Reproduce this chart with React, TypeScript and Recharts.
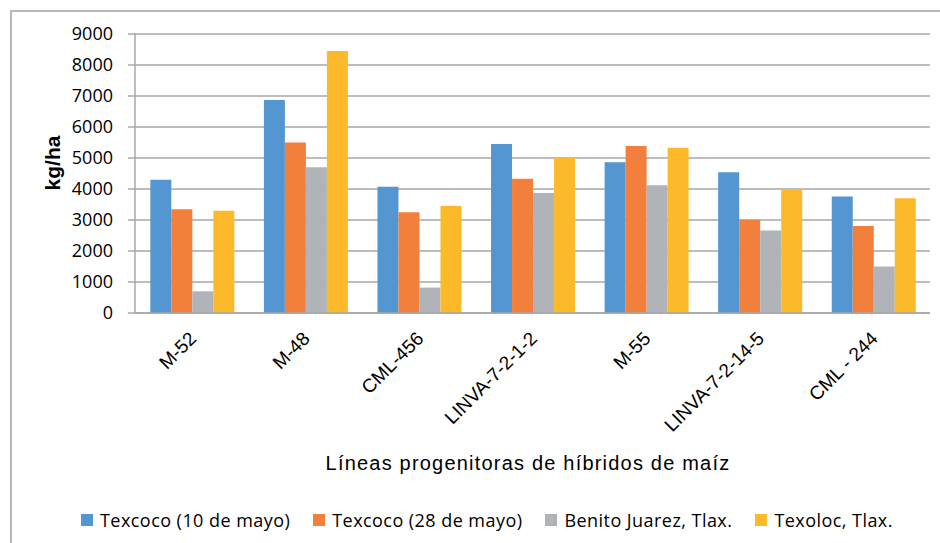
import React from 'react';
import { BarChart, Bar, XAxis, YAxis, CartesianGrid } from 'recharts';

const lines = ['M-52', 'M-48', 'CML-456', 'LINVA-7-2-1-2', 'M-55', 'LINVA-7-2-14-5', 'CML - 244'];
const texcoco10 = [4300, 6870, 4070, 5450, 4860, 4540, 3760];
const texcoco28 = [3350, 5500, 3250, 4330, 5390, 3010, 2810];
const benitoJuarez = [700, 4700, 820, 3870, 4120, 2660, 1500];
const texoloc = [3300, 8450, 3450, 5020, 5330, 3980, 3700];
const yTicks = [0, 1000, 2000, 3000, 4000, 5000, 6000, 7000, 8000, 9000];

const series = [
  { key: 'texcoco10', name: 'Texcoco (10 de mayo)', color: '#5396D1' },
  { key: 'texcoco28', name: 'Texcoco (28 de mayo)', color: '#F27F3B' },
  { key: 'benito', name: 'Benito Juarez, Tlax.', color: '#B0B3B7' },
  { key: 'texoloc', name: 'Texoloc, Tlax.', color: '#FCBA2A' },
];

const data = lines.map((name, i) => ({
  name,
  texcoco10: texcoco10[i],
  texcoco28: texcoco28[i],
  benito: benitoJuarez[i],
  texoloc: texoloc[i],
}));

const gridColor = '#A4A7AB';

const AngledTick = (props: any) => {
  const { x, y, payload } = props;
  return (
    <g transform={`translate(${x + 1},${y + 14})`}>
      <text
        x={0}
        y={0}
        dy="0.35em"
        textAnchor="end"
        transform="rotate(-45)"
        fill="#000"
        fontSize={19}
        fontFamily="'Liberation Sans', Arial, sans-serif"
      >
        {payload.value}
      </text>
    </g>
  );
};

const App: React.FC = () => {
  return (
    <div style={{ position: 'absolute', left: 0, top: 0, width: 940, height: 543, background: '#fff', overflow: 'hidden' }}>
      <div
        style={{
          position: 'absolute',
          left: 10,
          top: 10,
          width: 940,
          height: 560,
          borderLeft: '2px solid #B5B7BA',
          borderTop: '2px solid #B5B7BA',
        }}
      />
      <BarChart
        width={940}
        height={543}
        data={data}
        margin={{ top: 34, right: 10, left: 0, bottom: 100 }}
        barCategoryGap="13.5%"
        barGap={0}
        style={{ position: 'absolute', left: 0, top: 0 }}
      >
        <CartesianGrid vertical={false} stroke={gridColor} strokeWidth={1.5} />
        <XAxis
          dataKey="name"
          height={130}
          interval={0}
          tick={<AngledTick />}
          tickLine={false}
          axisLine={{ stroke: gridColor, strokeWidth: 1.5 }}
        />
        <YAxis
          width={135}
          domain={[0, 9000]}
          ticks={yTicks}
          interval={0}
          tickSize={7}
          tickMargin={15}
          tickLine={{ stroke: gridColor, strokeWidth: 1.5 }}
          axisLine={{ stroke: gridColor, strokeWidth: 1.5 }}
          tick={{ fill: '#000', fontSize: 18, fontFamily: "'Open Sans', sans-serif" }}
        />
        {series.map((s) => (
          <Bar key={s.key} dataKey={s.key} name={s.name} fill={s.color} isAnimationActive={false} />
        ))}
      </BarChart>
      <div
        style={{
          position: 'absolute',
          left: 53,
          top: 163,
          transform: 'translate(-50%, -50%) rotate(-90deg)',
          fontFamily: "'Liberation Sans', Arial, sans-serif",
          fontSize: 21,
          fontWeight: 'bold',
          color: '#000',
          whiteSpace: 'nowrap',
        }}
      >
        kg/ha
      </div>
      <div
        style={{
          position: 'absolute',
          left: 0,
          width: 1056,
          top: 452,
          textAlign: 'center',
          fontFamily: "'Liberation Sans', Arial, sans-serif",
          fontSize: 20,
          letterSpacing: 1.2,
          color: '#000',
        }}
      >
        Líneas progenitoras de híbridos de maíz
      </div>
      <div
        style={{
          position: 'absolute',
          left: 81,
          top: 508,
          display: 'flex',
          alignItems: 'center',
          fontFamily: "'Open Sans', sans-serif",
          fontSize: 18,
          color: '#000',
          whiteSpace: 'nowrap',
        }}
      >
        {series.map((s) => (
          <div key={s.key} style={{ display: 'flex', alignItems: 'center', marginRight: 23 }}>
            <span style={{ display: 'inline-block', width: 12, height: 12, background: s.color, marginRight: 7 }} />
            <span style={{ letterSpacing: 0.45 }}>{s.name}</span>
          </div>
        ))}
      </div>
    </div>
  );
};

export default App;
